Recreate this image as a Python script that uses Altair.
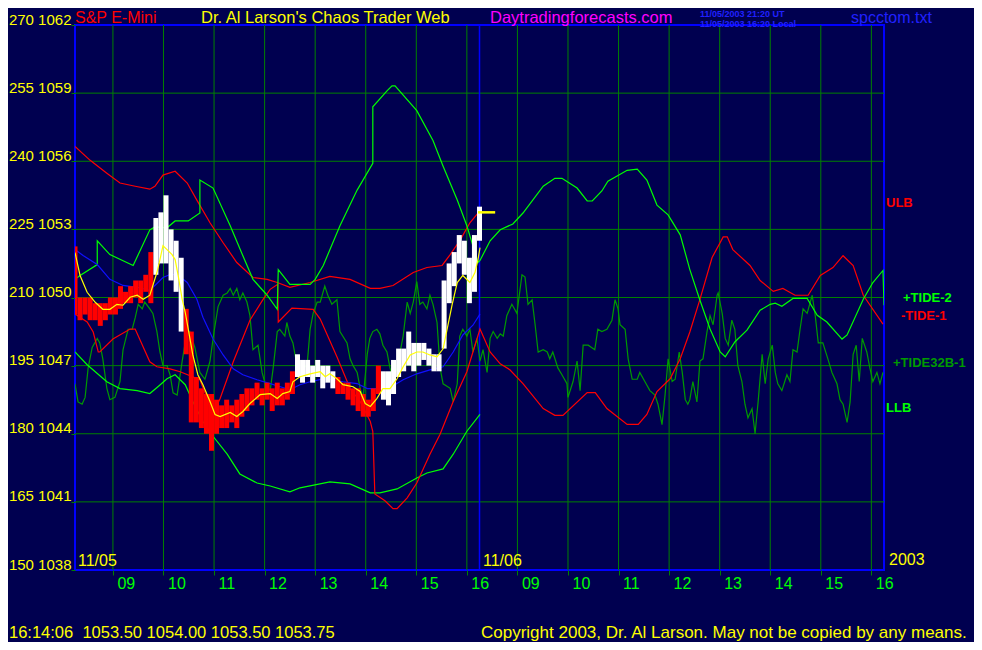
import altair as alt
import pandas as pd

FONT = "Liberation Sans"

# ---------------- axes / labels ----------------
price_ticks = [1038, 1041, 1044, 1047, 1050, 1053, 1056, 1059, 1062]
cycle_labels = ["150", "165", "180", "195", "210", "225", "240", "255", "270"]
hour_ticks = [0.75, 1.75, 2.75, 3.75, 4.75, 5.75, 6.75, 7.75,
              8.75, 9.75, 10.75, 11.75, 12.75, 13.75, 14.75, 15.75]
hour_labels = ["09", "10", "11", "12", "13", "14", "15", "16",
               "09", "10", "11", "12", "13", "14", "15", "16"]
day_break = [8.0]
day_labels = ["11/05", "11/06"]
year_label = "2003"

# ---------------- series (hours from session start, price) ----------------
tide2 = [(0.00,1050.80),(0.10,1050.97),(0.44,1051.45),(0.44,1052.50),(0.69,1051.89),(1.15,1051.41),
         (1.48,1052.98),(1.58,1053.11),(1.82,1053.07),(1.98,1053.37),(2.24,1053.37),(2.47,1053.72),
         (2.47,1055.17),(2.73,1054.82),(3.07,1053.16),(3.32,1051.84),(3.52,1050.80),(3.80,1050.10),
         (4.00,1049.48),(4.02,1051.23),(4.25,1050.58),(4.65,1050.58),(4.75,1050.80),(4.91,1051.41),
         (5.24,1053.16),(5.58,1054.73),(5.89,1055.91),(5.89,1058.40),(6.17,1059.10),(6.27,1059.32),
         (6.33,1059.32),(6.76,1058.23),(7.08,1056.91),(7.28,1055.78),(7.56,1054.29),(7.75,1053.16),
         (7.97,1051.54),(8.01,1051.63),(8.21,1052.50),(8.41,1052.98),(8.66,1053.24),(8.86,1053.72),
         (9.26,1054.90),(9.49,1055.25),(9.63,1055.25),(9.93,1054.82),(10.13,1054.25),(10.23,1054.25),
         (10.42,1054.69),(10.54,1055.12),(10.92,1055.60),(11.12,1055.65),(11.31,1055.17),(11.51,1054.07),
         (11.73,1053.64),(11.97,1052.76),(12.16,1051.23),(12.36,1049.88),(12.56,1048.61),(12.76,1047.60),
         (12.86,1047.39),(13.05,1048.04),(13.29,1048.56),(13.55,1049.44),(13.75,1049.70),(13.85,1049.75),
         (13.98,1049.61),(14.20,1049.96),(14.48,1049.96),(14.68,1049.22),(14.87,1048.92),(15.17,1048.17),
         (15.27,1048.35),(15.59,1049.92),(15.78,1050.66),(15.98,1051.19),(16.00,1049.66)]

llb = [(0.00,1047.60),(0.24,1047.04),(0.63,1046.29),(0.89,1045.99),(1.23,1045.90),(1.48,1045.77),
       (1.64,1046.07),(1.82,1046.42),(1.98,1046.60),(2.18,1046.16),(2.33,1045.42),(2.53,1044.54),
       (2.73,1043.89),(3.01,1043.10),(3.26,1042.23),(3.60,1041.83),(3.86,1041.70),(4.25,1041.44),
       (4.45,1041.62),(5.04,1041.88),(5.44,1041.79),(5.84,1041.40),(6.03,1041.40),(6.37,1041.57),
       (6.76,1042.05),(6.96,1042.27),(7.28,1042.45),(7.48,1043.10),(7.75,1044.11),(8.01,1044.85)]

ulb = [(0.00,1056.65),(0.30,1056.04),(0.63,1055.47),(0.89,1055.04),(1.19,1054.90),(1.48,1054.77),
       (1.58,1054.90),(1.74,1055.39),(1.98,1055.56),(2.22,1055.04),(2.41,1054.29),(2.67,1053.29),
       (2.93,1052.41),(3.20,1051.54),(3.52,1050.88),(3.80,1050.80),(4.00,1050.66),(4.25,1050.45),
       (4.65,1050.66),(5.04,1050.93),(5.44,1050.80),(5.84,1050.40),(6.03,1050.40),(6.29,1050.53),
       (6.69,1051.10),(6.96,1051.32),(7.26,1051.41),(7.42,1051.89),(7.62,1052.54),(7.81,1053.29),
       (7.97,1053.72)]

tide1 = [(0.00,1049.27),(0.24,1048.92),(0.36,1048.48),(0.46,1047.60),(0.49,1047.60),(0.75,1048.17),
         (1.09,1048.61),(1.19,1048.61),(1.48,1047.17),(1.62,1046.95),(1.88,1046.86),(2.08,1046.73),
         (2.47,1046.38),(2.73,1044.89),(2.87,1045.55),(3.13,1047.17),(3.46,1049.00),(3.72,1049.92),
         (3.86,1050.36),(4.01,1050.58),(4.02,1048.92),(4.29,1049.53),(4.71,1049.48),(4.85,1049.05),
         (5.18,1047.39),(5.44,1045.99),(5.64,1045.42),(5.84,1044.54),(5.89,1044.10),(5.93,1041.35),
         (6.13,1041.05),(6.29,1040.70),(6.37,1040.70),(6.57,1041.18),(6.76,1041.83),(7.02,1043.10),
         (7.22,1043.98),(7.48,1045.42),(7.75,1046.73),(8.01,1048.61),(8.21,1047.60),(8.41,1047.08),
         (8.60,1046.82),(8.86,1046.21),(9.26,1045.11),(9.49,1044.81),(9.65,1044.81),(10.13,1045.81),
         (10.29,1045.81),(10.52,1045.11),(10.92,1044.41),(11.14,1044.41),(11.31,1044.85),(11.51,1045.86),
         (11.77,1046.42),(11.97,1047.30),(12.16,1048.48),(12.36,1049.92),(12.60,1051.76),(12.82,1052.67),
         (12.90,1052.67),(13.01,1052.11),(13.35,1051.41),(13.55,1050.75),(13.81,1050.27),(14.00,1050.40),
         (14.24,1050.10),(14.50,1050.10),(14.74,1050.97),(14.99,1051.32),(15.19,1051.84),(15.39,1051.41),
         (15.59,1050.10),(15.98,1048.83)]

tide32b = [(0.00,1046.2),(0.06,1045.4),(0.14,1045.3),(0.20,1045.6),(0.26,1046.9),(0.34,1047.8),(0.44,1048.2),
           (0.49,1048.0),(0.55,1047.3),(0.63,1046.0),(0.69,1045.5),(0.79,1045.6),(0.89,1046.3),(0.95,1047.7),
           (1.05,1048.6),(1.13,1048.6),(1.19,1049.1),(1.25,1049.7),(1.33,1049.5),(1.38,1049.8),(1.48,1049.5),
           (1.54,1049.3),(1.62,1048.5),(1.68,1047.6),(1.74,1047.0),(1.82,1047.0),(1.88,1046.6),(1.94,1045.8),
           (2.02,1045.7),(2.12,1047.2),(2.20,1048.3),(2.27,1048.5),(2.37,1047.8),(2.47,1046.7),(2.57,1046.4),
           (2.67,1047.2),(2.75,1048.5),(2.83,1049.6),(2.93,1050.1),(3.01,1050.2),(3.07,1050.4),(3.13,1050.1),
           (3.20,1050.4),(3.26,1049.9),(3.32,1050.2),(3.40,1049.8),(3.46,1049.2),(3.52,1047.7),(3.62,1047.9),
           (3.70,1046.7),(3.76,1046.2),(3.86,1045.9),(3.92,1046.9),(4.00,1048.5),(4.05,1048.6),(4.15,1048.3),
           (4.19,1048.9),(4.25,1048.3),(4.31,1048.0),(4.39,1047.0),(4.45,1046.6),(4.51,1046.9),(4.59,1047.0),
           (4.65,1048.6),(4.71,1049.3),(4.79,1049.8),(4.85,1049.8),(4.94,1050.5),(5.00,1050.1),(5.08,1049.7),
           (5.18,1049.9),(5.24,1048.5),(5.38,1048.0),(5.44,1047.3),(5.50,1047.0),(5.58,1046.7),(5.64,1046.0),
           (5.70,1045.6),(5.78,1047.5),(5.83,1048.2),(5.89,1048.5),(5.97,1048.6),(6.03,1048.4),(6.09,1047.9),
           (6.17,1047.6),(6.23,1046.9),(6.29,1046.4),(6.37,1046.9),(6.49,1048.3),(6.57,1049.8),(6.63,1049.3),
           (6.69,1049.8),(6.76,1050.7),(6.82,1049.7),(6.88,1049.8),(6.96,1049.5),(7.02,1050.1),(7.08,1049.7),
           (7.16,1048.9),(7.22,1046.9),(7.28,1046.2),(7.42,1046.0),(7.48,1045.4),(7.56,1046.2),(7.61,1048.3),
           (7.67,1048.6),(7.75,1048.3),(7.81,1048.6),(7.87,1047.6),(7.95,1048.2),(8.01,1047.2),(8.07,1047.7),
           (8.15,1046.7),(8.21,1048.2),(8.27,1048.5),(8.35,1048.2),(8.41,1048.4),(8.47,1048.3),(8.54,1049.2),
           (8.64,1049.7),(8.74,1049.3),(8.84,1051.0),(8.90,1050.9),(8.96,1049.7),(9.04,1049.9),(9.10,1048.8),
           (9.16,1047.6),(9.26,1047.7),(9.34,1047.6),(9.39,1047.3),(9.45,1047.6),(9.55,1046.9),(9.63,1046.6),
           (9.73,1046.2),(9.75,1045.6),(9.85,1046.3),(9.93,1047.2),(9.99,1045.9),(10.05,1047.9),(10.15,1047.9),
           (10.28,1047.7),(10.34,1048.6),(10.42,1048.5),(10.52,1048.6),(10.62,1049.0),(10.68,1049.9),(10.74,1049.5),
           (10.78,1048.8),(10.88,1048.6),(10.94,1047.3),(11.02,1046.4),(11.12,1046.4),(11.17,1046.7),(11.27,1046.3),
           (11.37,1045.9),(11.47,1045.7),(11.53,1045.3),(11.61,1044.4),(11.67,1045.7),(11.73,1047.3),(11.81,1046.3),
           (11.87,1046.4),(11.95,1047.6),(12.01,1046.7),(12.07,1045.5),(12.12,1045.3),(12.16,1045.5),(12.22,1046.3),
           (12.30,1045.4),(12.36,1047.2),(12.42,1047.3),(12.50,1048.5),(12.56,1049.2),(12.62,1048.8),(12.70,1050.1),
           (12.72,1050.2),(12.80,1049.3),(12.86,1048.2),(12.92,1047.9),(12.99,1049.0),(13.05,1048.6),(13.11,1047.0),
           (13.19,1046.3),(13.25,1045.3),(13.31,1044.7),(13.39,1045.1),(13.45,1044.0),(13.51,1045.4),(13.59,1047.5),
           (13.65,1046.2),(13.71,1047.3),(13.79,1047.9),(13.85,1046.7),(13.90,1046.2),(13.98,1045.9),(14.08,1046.6),
           (14.14,1046.3),(14.20,1047.7),(14.28,1047.6),(14.34,1048.6),(14.40,1049.5),(14.48,1049.3),(14.58,1050.1),
           (14.64,1049.2),(14.70,1048.0),(14.79,1048.0),(14.89,1047.3),(14.97,1046.7),(15.07,1046.2),(15.13,1045.5),
           (15.19,1045.3),(15.27,1044.5),(15.33,1045.4),(15.39,1047.5),(15.45,1047.9),(15.51,1046.3),(15.57,1048.2),
           (15.66,1047.6),(15.72,1046.9),(15.78,1046.3),(15.86,1046.7),(15.92,1046.2),(15.98,1046.7)]

avg_blue = [(0.00,1052.11),(0.16,1051.85),(0.44,1051.45),(0.69,1050.80),(0.95,1050.53),(1.23,1050.45),
            (1.48,1050.31),(1.58,1050.53),(1.74,1050.88),(1.88,1051.01),(2.02,1051.01),(2.22,1050.66),
            (2.41,1049.92),(2.53,1049.13),(2.73,1048.17),(2.93,1047.47),(3.13,1046.86),(3.32,1046.60),
            (3.60,1046.38),(3.86,1046.21),(4.06,1046.07),(4.25,1045.94),(4.45,1046.16),(4.65,1046.29),
            (4.91,1046.42),(5.10,1046.38),(5.30,1046.29),(5.58,1046.21),(5.78,1045.99),(6.03,1045.99),
            (6.23,1046.03),(6.49,1046.38),(6.76,1046.64),(7.02,1046.81),(7.28,1046.95),(7.48,1047.60),
            (7.67,1048.35),(7.87,1048.78),(8.01,1049.27)]

avg_yellow = [(0.00,1051.98),(0.10,1050.97),(0.24,1050.23),(0.40,1049.79),(0.55,1049.48),(0.69,1049.48),
              (0.83,1049.70),(0.95,1049.66),(1.09,1050.01),(1.23,1050.10),(1.35,1049.92),(1.48,1050.10),
              (1.62,1051.10),(1.68,1051.67),(1.74,1052.28),(1.82,1052.11),(1.92,1051.89),(1.98,1051.67),
              (2.04,1050.97),(2.12,1049.92),(2.18,1049.35),(2.24,1048.61),(2.33,1047.47),(2.43,1046.60),
              (2.53,1046.16),(2.67,1045.42),(2.77,1044.85),(2.87,1044.76),(3.07,1044.94),(3.20,1044.76),
              (3.32,1044.98),(3.46,1045.33),(3.66,1045.72),(3.86,1045.77),(4.00,1045.55),(4.11,1045.77),
              (4.25,1045.86),(4.31,1046.29),(4.45,1046.51),(4.65,1046.64),(4.85,1046.73),(4.95,1046.51),
              (5.04,1046.64),(5.18,1046.42),(5.30,1046.16),(5.50,1046.07),(5.64,1045.86),(5.74,1045.33),
              (5.84,1045.20),(5.97,1045.55),(6.09,1045.99),(6.23,1045.99),(6.37,1046.42),(6.49,1046.95),
              (6.63,1047.47),(6.76,1047.60),(6.88,1047.60),(7.02,1047.47),(7.16,1047.39),(7.28,1047.74),
              (7.36,1048.61),(7.46,1049.70),(7.56,1050.66),(7.67,1050.97),(7.81,1050.66),(7.91,1051.10),
              (7.97,1051.67),(8.01,1052.20)]

# price bars (6-minute steps from session start)
bar_time = [round(0.1 * i, 1) for i in range(81)]
bar_hi = [1052.25,1050.0,1050.0,1050.0,1049.75,1049.75,1049.75,1050.0,1050.0,1050.5,
          1050.25,1050.5,1050.75,1050.75,1051.0,1052.0,1053.5,1053.75,1054.5,1053.0,
          1052.5,1051.75,1049.5,1048.5,1046.5,1046.0,1045.75,1045.75,1045.5,1045.25,
          1045.5,1045.25,1045.5,1045.75,1046.0,1046.0,1046.25,1046.0,1046.25,1046.0,
          1046.25,1046.0,1046.25,1046.75,1047.5,1047.25,1047.25,1047.0,1047.25,1047.0,
          1047.0,1046.75,1046.5,1046.25,1046.25,1046.0,1046.0,1045.75,1045.5,1046.0,
          1047.0,1046.75,1046.75,1047.25,1047.75,1047.75,1048.5,1048.0,1048.0,1048.0,
          1047.75,1047.5,1047.5,1050.75,1051.5,1052.0,1052.75,1052.5,1051.75,1052.75,
          1054.0]
bar_lo = [1049.25,1049.0,1049.25,1049.0,1049.0,1048.75,1049.0,1049.25,1049.25,1049.5,
          1049.75,1049.75,1050.0,1049.75,1050.25,1049.75,1051.0,1051.5,1051.5,1050.75,
          1050.25,1048.5,1047.5,1044.5,1044.5,1044.25,1044.0,1043.25,1044.0,1044.25,
          1044.25,1044.5,1044.25,1044.75,1045.0,1045.25,1045.5,1045.25,1045.5,1045.0,
          1045.25,1045.25,1045.5,1045.75,1046.5,1046.25,1046.5,1046.25,1046.5,1046.0,
          1046.25,1046.0,1045.75,1045.75,1045.5,1045.25,1045.0,1044.75,1044.75,1045.0,
          1045.75,1045.5,1045.25,1045.75,1046.5,1046.75,1047.0,1046.75,1047.0,1047.25,
          1047.0,1046.75,1046.75,1047.75,1049.75,1050.5,1051.5,1051.0,1049.75,1050.25,
          1052.5]
bar_dir = (["dn"] * 16 + ["up"] * 6 + ["dn"] * 22 + ["up"] * 8 + ["dn"] * 9 + ["up"] * 20)
last_close = 1053.75
close_span = (7.97, 8.31)

# ---------------- text ----------------
title_main = "S&P E-Mini"
title_site = "Dr. Al Larson's Chaos Trader Web"
title_url = "Daytradingforecasts.com"
stamp_ut = "11/05/2003 21:20 UT"
stamp_local = "11/05/2003 16:20 Local"
file_name = "spcctom.txt"
quote_line = "16:14:06\u00a0\u00a01053.50 1054.00 1053.50 1053.75"
copyright_line = "Copyright 2003, Dr. Al Larson. May not be copied by any means."
legend_names = ["ULB", "+TIDE-2", "-TIDE-1", "+TIDE32B-1", "LLB"]

# ---------------- encodings ----------------
XSCALE = alt.Scale(domain=[0, 16], nice=False, zero=False)
YSCALE = alt.Scale(domain=[1038, 1062], nice=False, zero=False)
x_expr = "[" + ",".join("'%s'" % s for s in hour_labels) + "][floor(datum.value)]"
y_expr = ("[" + ",".join("'%s'" % s for s in cycle_labels) +
          "][round((datum.value-1038)/3)] + ' ' + datum.value")
XAXIS = alt.Axis(values=hour_ticks, labelExpr=x_expr, title=None, grid=False, domain=False,
                 ticks=True, tickColor="#008000", tickSize=5, labelColor="#00ff00",
                 labelFont=FONT, labelFontSize=16, labelAlign="left", labelOffset=4,
                 labelPadding=0, labelFlush=False, labelOverlap=False)
YAXIS = alt.Axis(values=price_ticks, labelExpr=y_expr, title=None, grid=False, domain=False,
                 ticks=True, tickColor="#008000", tickSize=4, labelColor="#ffff00",
                 labelFont=FONT, labelFontSize=15, labelBaseline="alphabetic", labelOffset=-1,
                 labelPadding=0, labelFlush=False, labelOverlap=False)


def X(f):
    return alt.X(f, type="quantitative", scale=XSCALE, axis=XAXIS)


def Y(f):
    return alt.Y(f, type="quantitative", scale=YSCALE, axis=YAXIS)


def series(points, color, width=1.2):
    df = pd.DataFrame({"h": [p[0] for p in points], "p": [p[1] for p in points],
                       "i": list(range(len(points)))})
    return alt.Chart(df).mark_line(color=color, strokeWidth=width, clip=True).encode(
        x=X("h"), y=Y("p"), order="i:Q")


def txt(s, px, py, color, size=16, weight="normal", align="left", baseline="alphabetic"):
    return alt.Chart(pd.DataFrame({"t": [s]})).mark_text(
        align=align, baseline=baseline, color=color, fontSize=size, fontWeight=weight,
        font=FONT).encode(text="t:N", x=alt.value(px), y=alt.value(py))


hgrid = alt.Chart(pd.DataFrame({"p": price_ticks[1:-1]})).mark_rule(
    color="#008000", strokeWidth=1).encode(y=Y("p"))
vgrid = alt.Chart(pd.DataFrame({"h": hour_ticks})).mark_rule(
    color="#008000", strokeWidth=1).encode(x=X("h"))
sep = alt.Chart(pd.DataFrame({"h": day_break})).mark_rule(
    color="#0000ff", strokeWidth=1.5).encode(x=X("h"))

bars_df = pd.DataFrame({"h": bar_time, "hi": bar_hi, "lo": bar_lo, "c": bar_dir})
bars = alt.Chart(bars_df).mark_rule(strokeWidth=5, clip=True).encode(
    x=X("h"), y=Y("hi"), y2="lo",
    color=alt.Color("c:N", scale=alt.Scale(domain=["dn", "up"], range=["#ff0000", "#ffffff"]),
                    legend=None))
close_df = pd.DataFrame({"h": [close_span[0]], "h2": [close_span[1]], "p": [last_close]})
close_mark = alt.Chart(close_df).mark_rule(color="#ffff00", strokeWidth=2.5).encode(
    x=X("h"), x2="h2", y=Y("p"))

# annotation positions are in pixels relative to the plot's top-left corner
texts = [
    txt(title_main, 0, -2.5, "#ff0000", size=16),
    txt(title_site, 126, -2.5, "#ffff00", size=16.5),
    txt(title_url, 415, -2.5, "#ff00ff", size=16.5),
    txt(stamp_ut, 625, -8.5, "#2020ff", size=9, weight="bold"),
    txt(stamp_local, 625, 1.5, "#2020ff", size=9, weight="bold"),
    txt(file_name, 776, -2.5, "#2020ff", size=16),
    txt(day_labels[0], 3, 541, "#ffff00"),
    txt(day_labels[1], 408, 541, "#ffff00"),
    txt(year_label, 814, 540, "#ffff00"),
    txt(legend_names[0], 811, 177.5, "#ff0000", size=13, weight="bold", baseline="middle"),
    txt(legend_names[1], 828, 272.5, "#00ff00", size=13, weight="bold", baseline="middle"),
    txt(legend_names[2], 826, 291, "#ff0000", size=13, weight="bold", baseline="middle"),
    txt(legend_names[3], 818, 337.5, "#009a00", size=13, weight="bold", baseline="middle"),
    txt(legend_names[4], 811, 383, "#00ff00", size=13, weight="bold", baseline="middle"),
    txt(quote_line, -66, 613, "#ffff00", size=16.5),
    txt(copyright_line, 406, 613, "#ffff00", size=17),
]

chart = alt.layer(
    hgrid, vgrid, sep,
    series(tide32b, "#009a00"),
    series(llb, "#00ff00"),
    series(ulb, "#ff0000"),
    series(tide1, "#ff0000"),
    series(tide2, "#00ff00"),
    series(avg_blue, "#1010ff"),
    bars,
    series(avg_yellow, "#ffff00"),
    close_mark,
    *texts,
).properties(
    width=809, height=545,
    padding={"left": 67, "top": 17, "right": 90, "bottom": 72},
    autosize=alt.AutoSizeParams(type="none"),
    background="#000050",
).configure_view(stroke="#0000ff", strokeWidth=2)

chart.save("out.html", embed_options={"renderer": "svg", "actions": False})
